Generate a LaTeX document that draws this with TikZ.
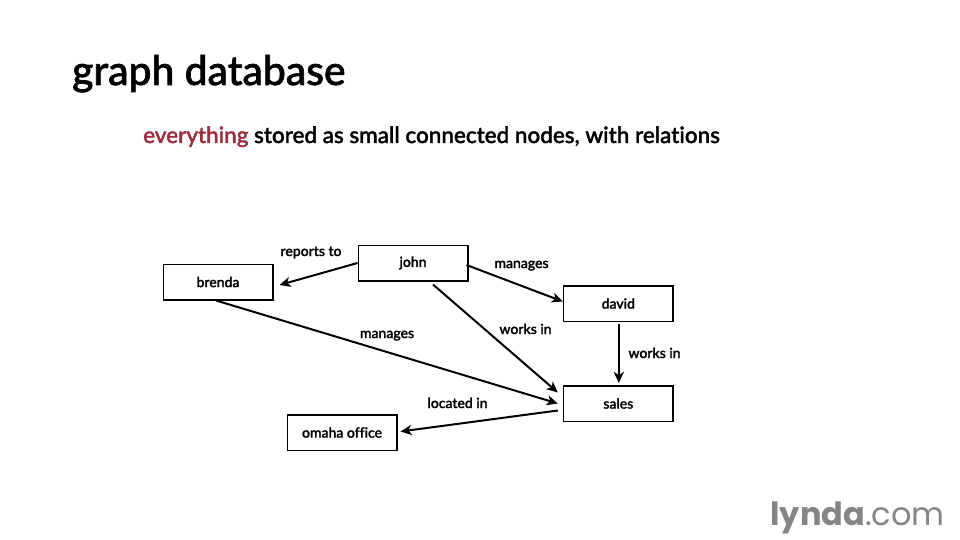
\documentclass[tikz,border=0pt]{standalone}
\usepackage{fontspec}
\usetikzlibrary{arrows.meta,calc}
\setmainfont[Ligatures=NoCommon,BoldFont={Lato Medium},BoldFeatures={FakeBold=1.6}]{Lato}
\newfontfamily\logofont{Poppins}
\definecolor{accent}{HTML}{9A3040}
\definecolor{logogray}{HTML}{858585}
\tikzset{
  box/.style={draw=black,line width=1.5pt,fill=white,minimum width=109.5pt,minimum height=35.5pt,inner sep=0pt,font=\fontsize{14}{17}\selectfont\bfseries},
  lbl/.style={font=\fontsize{14}{17}\selectfont\bfseries,inner sep=0pt,anchor=base},
  conn/.style={draw=black,line width=2pt,-{Stealth[length=11pt,width=10pt,inset=3pt]}}
}
\begin{document}
\begin{tikzpicture}[x=1pt,y=-1pt]
\useasboundingbox (0,0) rectangle (960,540);
\fill[white] (0,0) rectangle (960,540);
\node[inner sep=0pt,anchor=base west,font=\fontsize{40.8}{48}\selectfont\bfseries] (title) at (72,85) {graph database};
\node[inner sep=0pt,anchor=base west,font=\fontsize{22.47}{27}\selectfont\bfseries] (sub) at (143,143) {\textcolor{accent}{everything} stored as small connected nodes, with relations};
\node[box] (john) at (413,263) {john};
\node[box] (brenda) at (218,282) {brenda};
\node[box] (david) at (618.3,303.5) {david};
\node[box] (sales) at (618.3,403.5) {sales};
\node[box] (omaha) at (342,432.5) {omaha office};
\draw[conn] (john.west) -- ($(brenda.east)+(6,3)$);
\draw[conn] ($(john.east)+(-2,2)$) -- ($(david.west)+(0,-2)$);
\draw[conn] ($(john.south)+(20,3)$) -- ($(sales.west)+(-5,-11)$);
\draw[conn] ($(david.south)+(0.5,2)$) -- ($(sales.north)+(0.5,-2)$);
\draw[conn] ($(brenda.south)+(-2,0)$) -- ($(sales.west)+(-5,0)$);
\draw[conn] ($(sales.west)+(-5,7)$) -- ($(omaha.east)+(3,-1)$);
\node[lbl] (l1) at (311,256) {reports to};
\node[lbl] (l2) at (521.5,268) {manages};
\node[lbl] (l3) at (387,338) {manages};
\node[lbl] (l4) at (525.5,334) {works in};
\node[lbl] (l5) at (654.5,358) {works in};
\node[lbl] (l6) at (457.5,408) {located in};
\node[anchor=base east,inner sep=0pt,text=logogray,font=\logofont\fontsize{32}{38}\selectfont] (logo) at (945,525) {\textbf{lynda}.com};
\end{tikzpicture}
\end{document}
